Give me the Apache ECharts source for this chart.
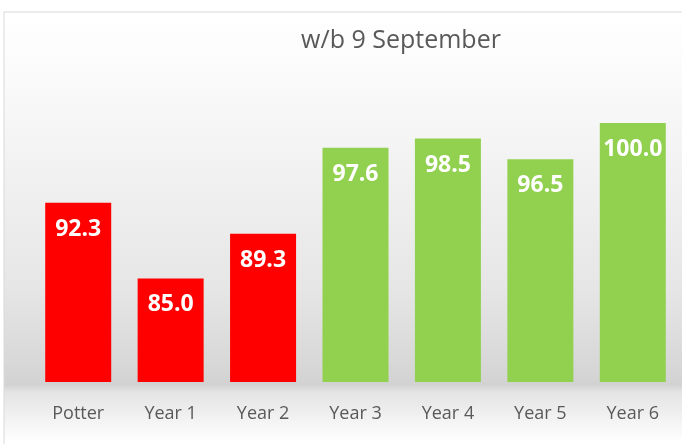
<!DOCTYPE html>
<html><head><meta charset="utf-8">
<script src="https://cdn.jsdelivr.net/npm/echarts@6/dist/echarts.min.js"></script>
<style>html,body{margin:0;padding:0;background:#fff}#c{width:682px;height:444px}</style>
</head><body><div id="c"></div>
<script>
const categories = ['Potter','Year 1','Year 2','Year 3','Year 4','Year 5','Year 6'];
const values = [92.3, 85.0, 89.3, 97.6, 98.5, 96.5, 100.0];
const barColors = ['#FF0000','#FF0000','#FF0000','#92D050','#92D050','#92D050','#92D050'];
const titleText = 'w/b 9 September';

const chart = echarts.init(document.getElementById('c'));
const font = '"Open Sans", "Noto Sans", sans-serif';
chart.setOption({
  backgroundColor: '#fff',
  animation: false,
  graphic: [
    { type: 'rect', z: -10, silent: true,
      shape: { x: 4, y: 12, width: 700, height: 500 },
      style: { stroke: '#d9d9d9', lineWidth: 1,
        fill: { type: 'linear', x: 0, y: 0, x2: 0, y2: 1, colorStops: [
          { offset: 0, color: '#ffffff' },
          { offset: 0.12, color: '#fbfbfb' },
          { offset: 0.55, color: '#e6e6e6' },
          { offset: 0.70, color: '#d8d8d8' },
          { offset: 0.745, color: '#d2d2d2' },
          { offset: 0.76, color: '#e4e4e4' },
          { offset: 0.86, color: '#ffffff' },
          { offset: 1, color: '#ffffff' } ] } } }
  ],
  title: { text: titleText, left: 396, top: 23, textAlign: 'center',
    textStyle: { fontFamily: font, fontSize: 25, fontWeight: 'normal', color: '#595959' } },
  grid: { left: 32, right: 3, top: 123, bottom: 62 },
  xAxis: { type: 'category', data: categories,
    axisLine: { show: false }, axisTick: { show: false },
    axisLabel: { fontFamily: font, fontSize: 18, color: '#595959', margin: 23 } },
  yAxis: { type: 'value', min: 75, max: 100, show: false, splitLine: { show: false } },
  series: [{
    type: 'bar', barWidth: 66,
    data: values.map((v, i) => ({ value: v, itemStyle: { color: barColors[i] } })),
    label: { show: true, position: 'insideTop', distance: 15,
      formatter: p => p.value.toFixed(1),
      fontFamily: font, fontSize: 23, fontWeight: 'bold', color: '#fff' }
  }]
});
</script></body></html>
